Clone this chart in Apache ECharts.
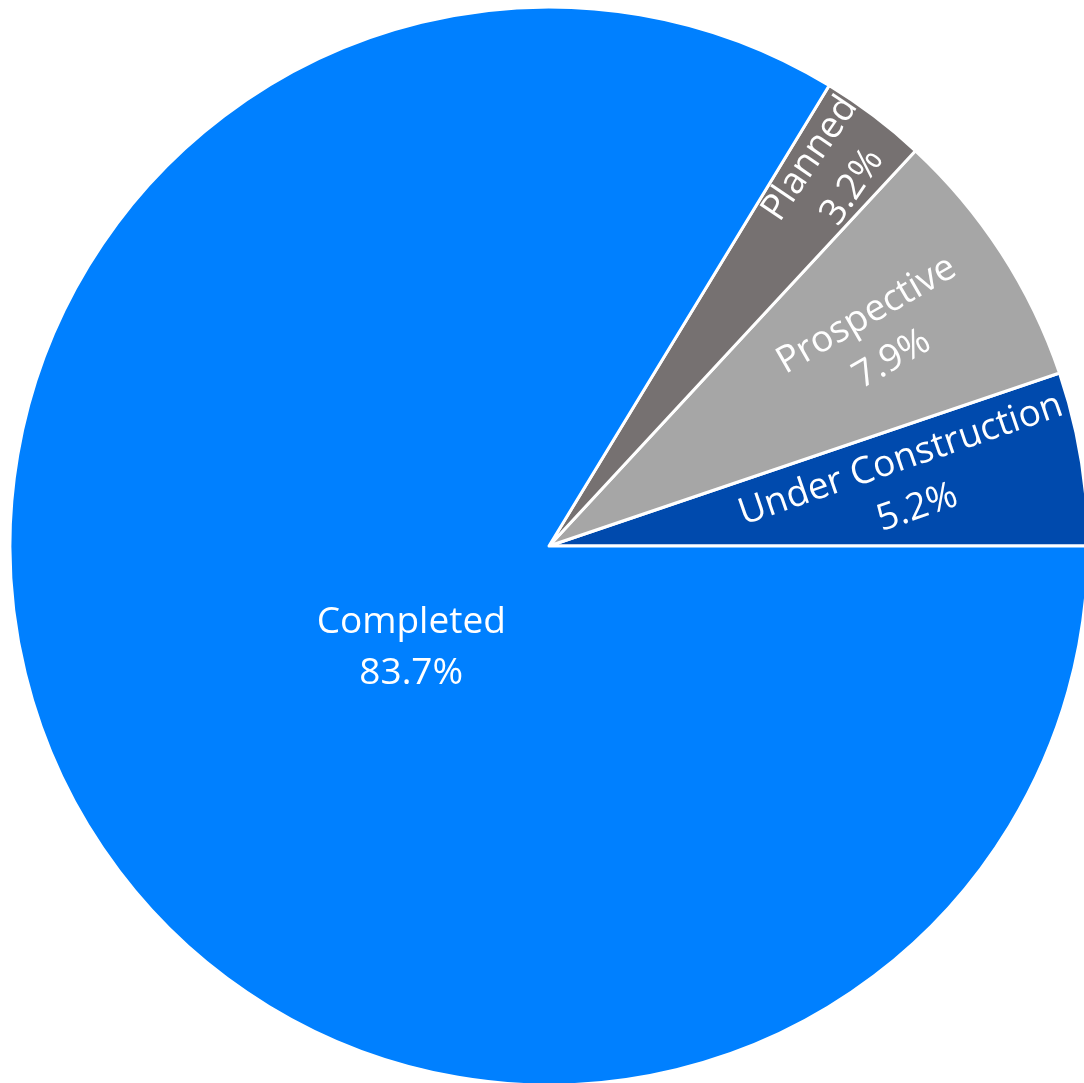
<!DOCTYPE html>
<html>
<head>
<meta charset="utf-8">
<script src="https://cdn.jsdelivr.net/npm/echarts@6/dist/echarts.min.js"></script>
<style>
html,body{margin:0;padding:0;background:#fff;}
#chart{width:1084px;height:1083px;}
</style>
</head>
<body>
<div id="chart"></div>
<script>
// Data
const categories = ['Under Construction', 'Prospective', 'Planned', 'Completed'];
const shares = [5.2, 7.9, 3.2, 83.7];

// Styles
const colors = ['#004AAD', '#A6A6A6', '#767171', '#0080FF'];
const labelRotate = [19, 30, 56, 0];
// label placement in polar terms: [fraction of radius, angle in degrees]
const labelPolar = [[0.678, 9.8], [0.725, 32.3], [0.868, 52.9], [0.318, 216.5]];

const CX = 549, CY = 546, R = 539;

const chart = echarts.init(document.getElementById('chart'), null, {renderer: 'canvas'});
chart.setOption({
  animation: false,
  backgroundColor: '#ffffff',
  series: [{
    type: 'pie',
    center: [CX, CY],
    radius: R,
    startAngle: 0,
    clockwise: false,
    avoidLabelOverlap: false,
    itemStyle: {borderColor: '#ffffff', borderWidth: 3},
    label: {
      show: true,
      position: 'inside',
      color: '#ffffff',
      fontFamily: 'Open Sans',
      fontSize: 37,
      lineHeight: 51,
      align: 'center',
      verticalAlign: 'middle',
      formatter: p => p.name + '\n' + p.value.toFixed(1) + '%'
    },
    labelLine: {show: false},
    emphasis: {disabled: true},
    labelLayout: function (params) {
      const i = params.dataIndex;
      const pr = labelPolar[i];
      const a = pr[1] * Math.PI / 180;
      return {
        x: CX + Math.cos(a) * pr[0] * R,
        y: CY - Math.sin(a) * pr[0] * R,
        rotate: labelRotate[i],
        align: 'center',
        verticalAlign: 'middle'
      };
    },
    data: categories.map((c, i) => ({name: c, value: shares[i], itemStyle: {color: colors[i]}}))
  }]
});
</script>
</body>
</html>
